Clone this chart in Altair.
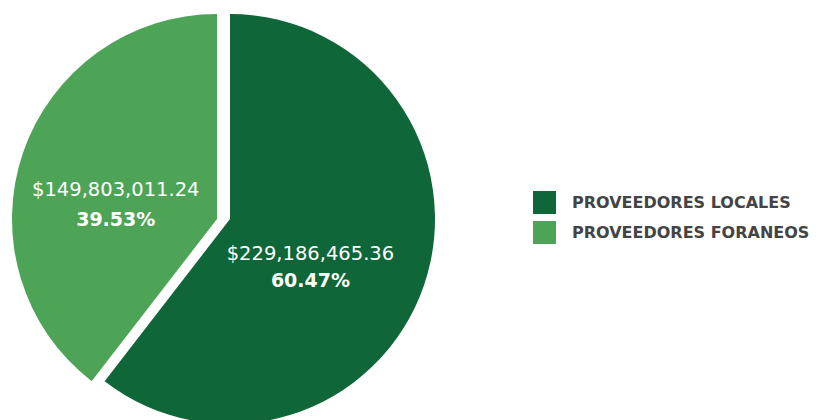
import altair as alt
import pandas as pd

categories = ["PROVEEDORES LOCALES", "PROVEEDORES FORANEOS"]
amounts = [229186465.36, 149803011.24]
amount_labels = ["$229,186,465.36", "$149,803,011.24"]
pct_labels = ["60.47%", "39.53%"]
colors = ["#0F6638", "#4DA457"]

df = pd.DataFrame({
    "idx": list(range(len(categories))),
    "cat": categories,
    "amount": amounts,
    "amt_label": amount_labels,
    "pct_label": pct_labels,
})

# layout constants
CX, CY, R = 222, 211, 205
explode_dx = [0, -13]
label_r = [85, 107]
amt_dy = [8, 6]
pct_dy = [35, 36]
FONT = "DejaVu Sans"

theta_scale = alt.Scale(domain=[0, 1])
color_scale = alt.Scale(domain=categories, range=colors)

base_all = (
    alt.Chart(df)
    .transform_joinaggregate(total="sum(amount)")
    .transform_window(cum="sum(amount)", sort=[alt.SortField("idx")], frame=[None, 0])
    .transform_calculate(
        start="(datum.cum - datum.amount) / datum.total",
        end="datum.cum / datum.total",
        mid="(datum.cum - datum.amount / 2) / datum.total",
    )
)

layers = []
for i in range(len(categories)):
    base = base_all.transform_filter(alt.datum.idx == i)
    cx = CX + explode_dx[i]
    arc = base.mark_arc(outerRadius=R, stroke=None).encode(
        theta=alt.Theta("start:Q", scale=theta_scale),
        theta2="end:Q",
        color=alt.Color(
            "cat:N",
            scale=color_scale,
            legend=alt.Legend(
                title=None,
                orient="none",
                legendX=525,
                legendY=183,
                symbolType="square",
                symbolSize=529,
                symbolStrokeWidth=0,
                symbolOpacity=1,
                labelFont=FONT,
                labelFontSize=16,
                labelFontWeight="bold",
                labelColor="#444444",
                labelOffset=16,
                rowPadding=7,
                labelLimit=400,
            ),
        ),
        x=alt.value(cx),
        y=alt.value(CY),
    )
    amt = base.mark_text(
        radius=label_r[i], dy=amt_dy[i], font=FONT, fontSize=19.5, color="white"
    ).encode(
        theta=alt.Theta("mid:Q", scale=theta_scale),
        text="amt_label:N",
        x=alt.value(cx),
        y=alt.value(CY),
    )
    pct = base.mark_text(
        radius=label_r[i], dy=pct_dy[i], font=FONT, fontSize=19, fontWeight="bold", color="white"
    ).encode(
        theta=alt.Theta("mid:Q", scale=theta_scale),
        text="pct_label:N",
        x=alt.value(cx),
        y=alt.value(CY),
    )
    layers += [arc, amt, pct]

chart = (
    alt.layer(*layers)
    .properties(width=807, height=412, autosize=alt.AutoSizeParams(type="none"), padding=0)
    .configure_view(stroke=None)
)

chart.save("out.html", embed_options={"renderer": "svg", "actions": False})
